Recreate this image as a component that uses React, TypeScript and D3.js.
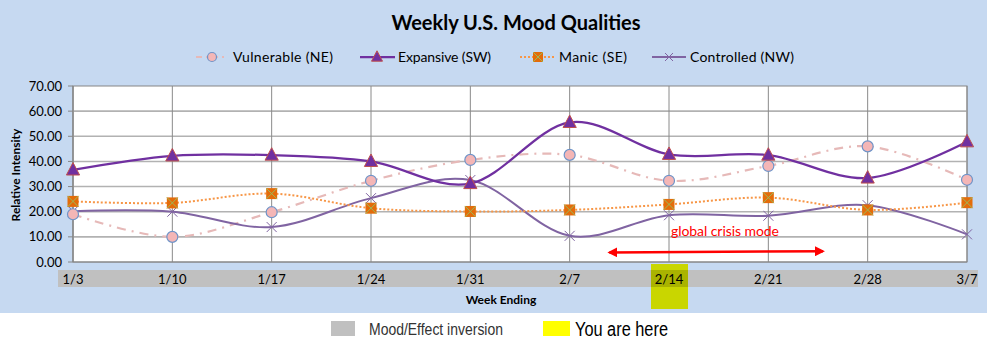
import React from "react";
import * as d3 from "d3";

const weeks = ["1/3", "1/10", "1/17", "1/24", "1/31", "2/7", "2/14", "2/21", "2/28", "3/7"];
const vulnerable = [19, 10, 19.8, 32.3, 40.6, 42.6, 32.3, 38.2, 46, 32.7];
const expansive = [36.6, 42.2, 42.5, 40, 31.2, 55.5, 42.8, 42.5, 33.4, 47.8];
const manic = [24.1, 23.5, 27.2, 21.4, 20.1, 20.7, 22.9, 25.6, 20.7, 23.6];
const controlled = [20.2, 20, 13.9, 25.4, 32.6, 10.4, 18.6, 18.4, 22.6, 11];
const yTicks = [0, 10, 20, 30, 40, 50, 60, 70];
const seriesNames = ["Vulnerable (NE)", "Expansive (SW)", "Manic (SE)", "Controlled (NW)"];
const highlightWeek = "2/14";
const annotation = "global crisis mode";
const arrowFrom = "2/7";
const arrowTo = "2/21";

const W = 994;
const H = 355;
const FONT = "Lato, 'Open Sans', 'Liberation Sans', sans-serif";

export default function App() {
  const x = d3.scalePoint<string>().domain(weeks).range([73, 967]).padding(0);
  const y = d3.scaleLinear().domain([0, 70]).range([262, 86]);
  const step = x.step();

  const line = d3
    .line<number>()
    .x((_, i) => x(weeks[i]) as number)
    .y((d) => y(d))
    .curve(d3.curveCardinal.tension(0));

  const triangle = (cx: number, cy: number, s: number) =>
    `M${cx},${cy - s * 0.62} L${cx + s * 0.55},${cy + s * 0.42} L${cx - s * 0.55},${cy + s * 0.42} Z`;

  const xHi = x(highlightWeek) as number;
  const arrowY1 = y(3.8);
  const arrowY2 = y(4.3);
  const ax1 = (x(arrowFrom) as number) + step * 0.4;
  const ax2 = (x(arrowTo) as number) + step * 0.55;

  return (
    <svg width={W} height={H} style={{ position: "absolute", left: 0, top: 0 }} fontFamily={FONT}>
      <defs>
        <marker id="ah" viewBox="0 0 10 10" refX="8" refY="5" markerWidth="4" markerHeight="4" orient="auto-start-reverse">
          <path d="M0,0 L10,5 L0,10 Z" fill="#ff0000" />
        </marker>
      </defs>
      <rect x={0} y={0} width={W} height={H} fill="#ffffff" />
      <rect x={0} y={0} width={987} height={313} fill="#c6d9f1" />

      {/* title */}
      <text x={516} y={30} textAnchor="middle" fontSize={20} fontWeight="bold" fill="#000">
        Weekly U.S. Mood Qualities
      </text>

      {/* legend */}
      <g fontSize={14} fill="#000">
        <line x1={196} x2={226} y1={57} y2={57} stroke="#e6b9b8" strokeWidth={2} strokeDasharray="6,4,2,4" />
        <circle cx={212} cy={57} r={4.5} fill="#f4b6b6" stroke="#6f94c8" strokeWidth={1.2} />
        <text x={233} y={62} textLength={100}>{seriesNames[0]}</text>

        <line x1={360} x2={395} y1={57} y2={57} stroke="#7030a0" strokeWidth={2.25} />
        <path d={triangle(377, 57, 10)} fill="#7030a0" stroke="#c0504d" strokeWidth={1} />
        <text x={398} y={62} textLength={93}>{seriesNames[1]}</text>

        <line x1={520} x2={555} y1={57} y2={57} stroke="#f79646" strokeWidth={2} strokeDasharray="2,2" />
        <rect x={533} y={52} width={10} height={10} fill="#e46c0a" />
        <path d="M533,52 L543,62 M543,52 L533,62" stroke="#9bbb59" strokeWidth={1} />
        <text x={559} y={62} textLength={68}>{seriesNames[2]}</text>

        <line x1={652} x2={686} y1={57} y2={57} stroke="#8064a2" strokeWidth={2} />
        <path d="M665,53 L673,61 M673,53 L665,61" stroke="#8064a2" strokeWidth={1} />
        <text x={690} y={62} textLength={104}>{seriesNames[3]}</text>
      </g>

      {/* plot area */}
      <rect x={73} y={86} width={894} height={176} fill="#ffffff" stroke="#868686" strokeWidth={1} />
      {yTicks.slice(1, -1).map((t) => (
        <line key={t} x1={73} x2={967} y1={y(t)} y2={y(t)} stroke="#b2b2b2" strokeWidth={1.6} />
      ))}
      {weeks.map((w) => (
        <line key={w} x1={x(w)} x2={x(w)} y1={86} y2={262} stroke="#8a8a8a" strokeWidth={1} />
      ))}
      <line x1={73} x2={967} y1={262} y2={262} stroke="#868686" strokeWidth={1} />
      <line x1={73} x2={73} y1={86} y2={262} stroke="#868686" strokeWidth={1} />
      {yTicks.map((t) => (
        <g key={t}>
          <line x1={68} x2={73} y1={y(t)} y2={y(t)} stroke="#868686" />
          <text x={62} y={y(t) + 4.5} textAnchor="end" fontSize={13} fill="#000">
            {t.toFixed(2)}
          </text>
        </g>
      ))}
      <text transform={`translate(20,175) rotate(-90)`} textAnchor="middle" fontSize={12} fontWeight="bold" fill="#000">
        Relative Intensity
      </text>

      {/* series lines */}
      <path d={line(vulnerable) || ""} fill="none" stroke="#e6b9b8" strokeWidth={2.2} strokeDasharray="9,6,2,6" />
      <path d={line(controlled) || ""} fill="none" stroke="#8064a2" strokeWidth={2} />
      <path d={line(manic) || ""} fill="none" stroke="#f79646" strokeWidth={2} strokeDasharray="2,2" />
      <path d={line(expansive) || ""} fill="none" stroke="#7030a0" strokeWidth={2.25} />

      {/* markers */}
      {controlled.map((v, i) => {
        const cx = x(weeks[i]) as number;
        const cy = y(v);
        return (
          <path key={"c" + i} d={`M${cx - 5},${cy - 5} L${cx + 5},${cy + 5} M${cx + 5},${cy - 5} L${cx - 5},${cy + 5}`} stroke="#8064a2" strokeWidth={1} />
        );
      })}
      {manic.map((v, i) => {
        const cx = x(weeks[i]) as number;
        const cy = y(v);
        return (
          <g key={"m" + i}>
            <rect x={cx - 5.5} y={cy - 5.5} width={11} height={11} fill="#e46c0a" />
            <path d={`M${cx - 5.5},${cy - 5.5} L${cx + 5.5},${cy + 5.5} M${cx + 5.5},${cy - 5.5} L${cx - 5.5},${cy + 5.5}`} stroke="#9bbb59" strokeWidth={1} />
          </g>
        );
      })}
      {vulnerable.map((v, i) => (
        <circle key={"v" + i} cx={x(weeks[i]) as number} cy={y(v)} r={5.5} fill="#f4b6b6" stroke="#6f94c8" strokeWidth={1.2} />
      ))}
      {expansive.map((v, i) => (
        <path key={"e" + i} d={triangle(x(weeks[i]) as number, y(v), 12)} fill="#7030a0" stroke="#c0504d" strokeWidth={1} />
      ))}

      {/* annotation */}
      <line x1={ax1} x2={ax2} y1={arrowY1} y2={arrowY2} stroke="#ff0000" strokeWidth={2.5} markerStart="url(#ah)" markerEnd="url(#ah)" />
      <text x={671} y={236} fontSize={14} fill="#ff0000" textLength={108}>
        {annotation}
      </text>

      {/* category band */}
      <rect x={xHi - 18} y={264} width={37} height={45} fill="#c9d600" />
      <rect x={58} y={270} width={920} height={17} fill="#c0c0c0" />
      <rect x={xHi - 18} y={270} width={37} height={17} fill="#aab300" />
      {weeks.map((w) => (
        <text key={w} x={x(w)} y={283.5} textAnchor="middle" fontSize={13} fill="#000">
          {w}
        </text>
      ))}
      <text x={501} y={304} textAnchor="middle" fontSize={12} fontWeight="bold" fill="#000">
        Week Ending
      </text>

      {/* bottom legend */}
      <rect x={331} y={321} width={24} height={15} fill="#c0c0c0" />
      <text x={369} y={335} fontSize={17} fill="#333" textLength={134} lengthAdjust="spacingAndGlyphs" fontFamily="'Liberation Sans Narrow', 'Liberation Sans', sans-serif">
        Mood/Effect inversion
      </text>
      <rect x={543} y={321} width={27} height={15} fill="#ffff00" />
      <text x={575} y={336} fontSize={20} fill="#000" textLength={93} lengthAdjust="spacingAndGlyphs" fontFamily="'Liberation Sans Narrow', 'Liberation Sans', sans-serif">
        You are here
      </text>
    </svg>
  );
}
